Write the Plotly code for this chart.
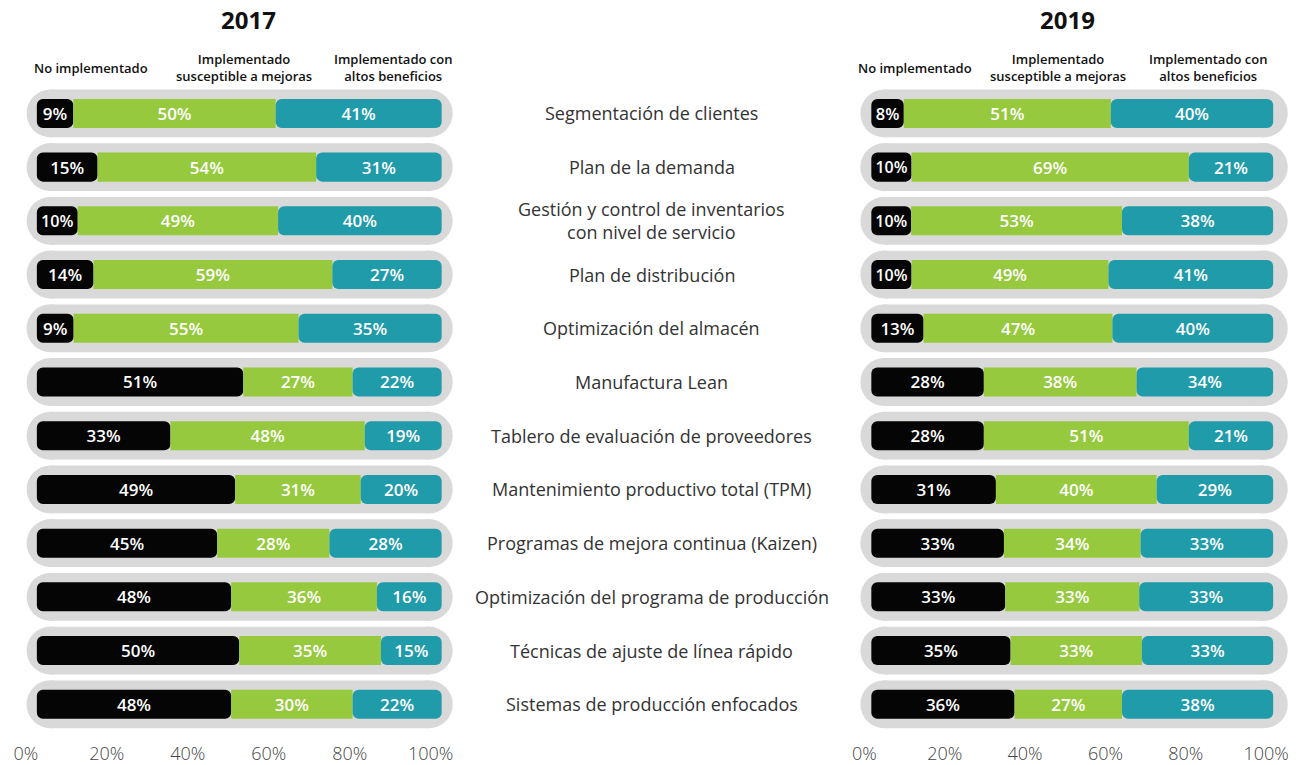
import plotly.graph_objects as go

categories = [
    "Segmentación de clientes",
    "Plan de la demanda",
    "Gestión y control de inventarios<br>con nivel de servicio",
    "Plan de distribución",
    "Optimización del almacén",
    "Manufactura Lean",
    "Tablero de evaluación de proveedores",
    "Mantenimiento productivo total (TPM)",
    "Programas de mejora continua (Kaizen)",
    "Optimización del programa de producción",
    "Técnicas de ajuste de línea rápido",
    "Sistemas de producción enfocados",
]
series_names = ["No implementado",
                "Implementado<br>susceptible a mejoras",
                "Implementado con<br>altos beneficios"]

no_2017 = [9, 15, 10, 14, 9, 51, 33, 49, 45, 48, 50, 48]
mej_2017 = [50, 54, 49, 59, 55, 27, 48, 31, 28, 36, 35, 30]
alt_2017 = [41, 31, 40, 27, 35, 22, 19, 20, 28, 16, 15, 22]

no_2019 = [8, 10, 10, 10, 13, 28, 28, 31, 33, 33, 35, 36]
mej_2019 = [51, 69, 53, 49, 47, 38, 51, 40, 34, 33, 33, 27]
alt_2019 = [40, 21, 38, 41, 40, 34, 21, 29, 33, 33, 33, 38]

tick_vals = [0, 20, 40, 60, 80, 100]
tick_text = ["0%", "20%", "40%", "60%", "80%", "100%"]

BLACK = "#050505"
GREEN = "#96C93D"
TEAL = "#1F9BAA"
PILL = "#D9D9D9"
W, H = 1305, 765
FONT = "Open Sans"

rows = list(range(len(categories)))
row_top, row_bot = 87, 735  # px
row_px = (row_bot - row_top) / len(rows)
ydom = [1 - row_bot / H, 1 - row_top / H]
xrange_ = [-4, 105]
PILL_W, BAR_W = 0.89, 0.54


def xdomain(x0px, x100px):
    ppu = (x100px - x0px) / 100
    return [(x0px + xrange_[0] * ppu) / W, (x0px + xrange_[1] * ppu) / W]


fig = go.Figure()


def add_panel(no, mej, alt, pill_ax, bar_ax, x0px, x100px, pad_lo, pad_hi):
    tot = [a + b + c for a, b, c in zip(no, mej, alt)]
    n = [100 * a / t for a, t in zip(no, tot)]
    m = [100 * a / t for a, t in zip(mej, tot)]
    al = [100 * a / t for a, t in zip(alt, tot)]

    # grey pill (on the base axes, so it sits under the bars): square body + round caps
    pc = dict(y=rows, xaxis=pill_ax[0], yaxis=pill_ax[1], hoverinfo="skip", showlegend=False)
    cap_d = PILL_W * row_px
    cap_r = cap_d / 2 / ((x100px - x0px) / 100)
    lo, hi = pad_lo + cap_r, pad_hi - cap_r
    fig.add_trace(go.Bar(orientation="h", x=[hi - lo] * len(rows), base=[lo] * len(rows),
                         width=PILL_W, marker=dict(color=PILL, line=dict(width=0)), **pc))
    for xc in (lo, hi):
        fig.add_trace(go.Scatter(x=[xc] * len(rows), mode="markers", cliponaxis=False,
                                 marker=dict(color=PILL, size=cap_d, line=dict(width=0)),
                                 **pc))

    bc = dict(y=rows, xaxis=bar_ax[0], yaxis=bar_ax[1], hoverinfo="skip", showlegend=False,
              orientation="h", width=BAR_W, textposition="inside",
              insidetextanchor="middle", constraintext="none",
              textfont=dict(family=FONT, size=17, color="white", weight=600))
    fig.add_trace(go.Bar(x=[-v for v in n], base=n, text=[f"{v}%" for v in no],
                         marker=dict(color=BLACK, cornerradius=6, line=dict(width=0)), **bc))
    fig.add_trace(go.Bar(x=m, base=n, text=[f"{v}%" for v in mej],
                         marker=dict(color=GREEN, line=dict(width=0)), **bc))
    fig.add_trace(go.Bar(x=al, base=[a + b for a, b in zip(n, m)], text=[f"{v}%" for v in alt],
                         marker=dict(color=TEAL, cornerradius=6, line=dict(width=0)), **bc))


add_panel(no_2017, mej_2017, alt_2017, ("x", "y"), ("x3", "y3"), 30, 437, -2.5, 102.7)
add_panel(no_2019, mej_2019, alt_2019, ("x2", "y2"), ("x4", "y4"), 869, 1273, -2.7, 103.6)

xcommon = dict(range=xrange_, tickvals=tick_vals, ticktext=tick_text, showgrid=False,
               zeroline=False, showline=False, ticks="", ticklabelstandoff=10,
               tickfont=dict(family=FONT, size=18, color="#444", weight=300))
ycommon = dict(range=[len(rows) - 0.5, -0.5], domain=ydom, visible=False)

fig.update_layout(
    width=W, height=H,
    margin=dict(l=0, r=0, t=0, b=0),
    paper_bgcolor="white", plot_bgcolor="rgba(0,0,0,0)",
    barmode="overlay",
    xaxis=dict(domain=xdomain(30, 437), anchor="y", ticklabelshift=-11, **xcommon),
    xaxis2=dict(domain=xdomain(869, 1273), anchor="y2", ticklabelshift=-7, **xcommon),
    yaxis=dict(anchor="x", **ycommon),
    yaxis2=dict(anchor="x2", **ycommon),
    xaxis3=dict(overlaying="x", anchor="y3", range=xrange_, visible=False),
    yaxis3=dict(overlaying="y", anchor="x3", **ycommon),
    xaxis4=dict(overlaying="x2", anchor="y4", range=xrange_, visible=False),
    yaxis4=dict(overlaying="y2", anchor="x4", **ycommon),
)

ann = []
for i, c in enumerate(categories):
    ann.append(dict(x=648 / W, xref="paper", y=i, yref="y", text=c, showarrow=False,
                    xanchor="center", yanchor="middle",
                    font=dict(family=FONT, size=18, color="#333")))
for title, xc in [("2017", 243), ("2019", 1066)]:
    ann.append(dict(x=xc / W, y=1 - 20 / H, xref="paper", yref="paper", text=title,
                    showarrow=False, xanchor="center", yanchor="middle",
                    font=dict(family=FONT, size=24, color="#111", weight=700)))
for xs in [(84, 238, 388), (913, 1057, 1207)]:
    for name, xc in zip(series_names, xs):
        ann.append(dict(x=xc / W, y=1 - 68 / H, xref="paper", yref="paper", text=name,
                        showarrow=False, xanchor="center", yanchor="middle",
                        font=dict(family=FONT, size=13, color="#111", weight=600)))
fig.update_layout(annotations=ann)

fig.write_html("out.html", config={"displayModeBar": False},
               post_script="document.body.style.margin='0';")
